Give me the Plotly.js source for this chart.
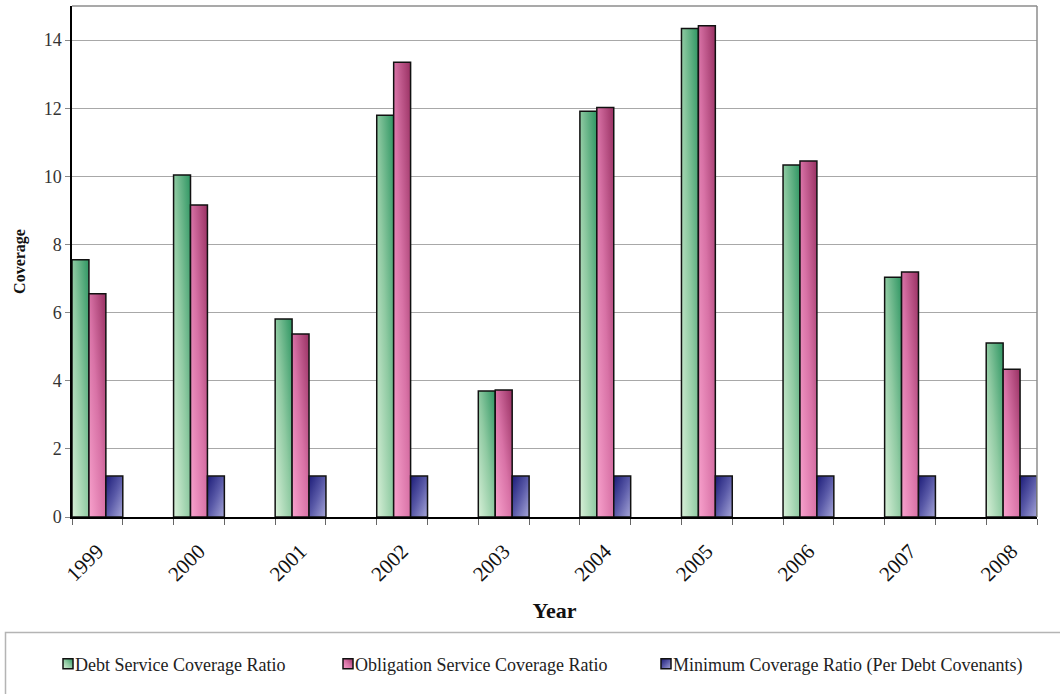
<!DOCTYPE html>
<html>
<head>
<meta charset="utf-8">
<script src="https://cdn.plot.ly/plotly-3.0.1.min.js"></script>
<style>
  html, body { margin: 0; padding: 0; background: #fff; }
  #chart { width: 1060px; height: 694px; }
</style>
</head>
<body>
<div id="chart"></div>
<script>
// Coverage ratios by fiscal year
const years = ['1999', '2000', '2001', '2002', '2003', '2004', '2005', '2006', '2007', '2008'];
const debtServiceCoverage = [7.55, 10.04, 5.81, 11.79, 3.70, 11.91, 14.34, 10.33, 7.04, 5.11];
const obligationServiceCoverage = [6.55, 9.16, 5.37, 13.35, 3.73, 12.02, 14.42, 10.45, 7.19, 4.34];
const minimumCoverage = [1.2, 1.2, 1.2, 1.2, 1.2, 1.2, 1.2, 1.2, 1.2, 1.2];
const seriesNames = [
  'Debt Service Coverage Ratio',
  'Obligation Service Coverage Ratio',
  'Minimum Coverage Ratio (Per Debt Covenants)'
];

// Each year occupies every other slot so an empty slot sits between groups
const slotPos = years.map((_, i) => 2 * i);

const W = 1060, H = 694;
const M = { l: 72, r: 23, t: 6, b: 177 };
const plotW = W - M.l - M.r, plotH = H - M.t - M.b;
const px2x = p => (p - M.l) / plotW;
const px2y = p => (H - M.b - p) / plotH;

const serif = 'Liberation Serif';

// Gradient fills (light -> dark), applied to bars after drawing
const gradients = [
  { id: 'grad-debt', x1: 0, y1: 1, x2: 1, y2: 0, stops: ['#d8f0d8', '#8fcaa2', '#2e9562'] },
  { id: 'grad-oblig', x1: 0, y1: 1, x2: 1, y2: 0, stops: ['#f8a2cd', '#d872a6', '#983062'] },
  { id: 'grad-min', x1: 0, y1: 0, x2: 1, y2: 1, stops: ['#1c1c78', '#5a5aa8', '#a6a6d8'] }
];
const baseColors = ['#7cc094', '#cc6698', '#5a5aa8'];

const valueSets = [debtServiceCoverage, obligationServiceCoverage, minimumCoverage];
const legendIds = ['legend', 'legend2', 'legend3'];
const barWidth = 1 / 3;

const traces = valueSets.map((vals, k) => ({
  type: 'bar',
  name: seriesNames[k],
  x: slotPos,
  y: vals,
  width: barWidth,
  offset: -0.5 + k * barWidth,
  marker: { color: baseColors[k], line: { color: '#111', width: 1.5 } },
  legend: legendIds[k],
  hoverinfo: 'y+name'
}));

const legendFont = { family: serif, size: 18, color: '#222' };
const legendY = px2y(664);
const legendBase = {
  orientation: 'h', xanchor: 'left', yanchor: 'middle', y: legendY,
  bgcolor: 'rgba(0,0,0,0)', borderwidth: 0, font: legendFont, itemclick: false
};

const layout = {
  width: W, height: H,
  margin: M,
  paper_bgcolor: '#fff', plot_bgcolor: '#fff',
  barmode: 'overlay',
  font: { family: serif, color: '#222' },
  xaxis: {
    range: [-0.5, 18.5],
    tickmode: 'array', tickvals: slotPos, ticktext: years,
    tickangle: -45, ticks: '', ticklabelstandoff: 12,
    tickfont: { family: serif, size: 21, color: '#111' },
    showline: true, linecolor: '#000', linewidth: 1.5,
    showgrid: false, zeroline: false,
    minor: { tickmode: 'linear', tick0: -0.5, dtick: 1, ticks: 'outside', ticklen: 6,
             tickcolor: '#666', tickwidth: 1, showgrid: false },
    title: { text: 'Year', font: { family: serif, size: 22, weight: 'bold', color: '#111' }, standoff: 17 },
    fixedrange: true
  },
  yaxis: {
    range: [0, 15], tick0: 0, dtick: 2,
    ticks: 'outside', ticklen: 5, tickcolor: '#888', tickwidth: 1,
    tickfont: { family: serif, size: 18, color: '#333' },
    showline: true, linecolor: '#000', linewidth: 1.5,
    showgrid: true, gridcolor: '#a8a8a8', gridwidth: 1,
    zeroline: false,
    title: { text: 'Coverage', font: { family: serif, size: 16, weight: 'bold', color: '#111' }, standoff: 14 },
    fixedrange: true
  },
  shapes: [
    // top and right frame of the plot area
    { type: 'line', xref: 'paper', yref: 'paper', x0: 0, x1: 1, y0: 1, y1: 1, line: { color: '#8c8c8c', width: 1.5 } },
    { type: 'line', xref: 'paper', yref: 'paper', x0: 1, x1: 1, y0: 0, y1: 1, line: { color: '#8c8c8c', width: 1.5 } },
    // legend frame
    { type: 'rect', xref: 'paper', yref: 'paper', x0: px2x(5.5), x1: px2x(1075), y0: px2y(632.5), y1: px2y(720),
      line: { color: '#b4b4b4', width: 1.5 }, fillcolor: 'rgba(0,0,0,0)', layer: 'below' }
  ],
  legend: Object.assign({}, legendBase, { x: px2x(35) }),
  legend2: Object.assign({}, legendBase, { x: px2x(315) }),
  legend3: Object.assign({}, legendBase, { x: px2x(633) }),
  showlegend: true
};

const SVGNS = 'http://www.w3.org/2000/svg';

function ensureGradients(root) {
  const svg = root.querySelector('svg.main-svg');
  if (!svg) return;
  let defs = svg.querySelector('defs');
  if (!defs) { defs = document.createElementNS(SVGNS, 'defs'); svg.prepend(defs); }
  gradients.forEach(g => {
    if (document.getElementById(g.id)) return;
    const lg = document.createElementNS(SVGNS, 'linearGradient');
    lg.setAttribute('id', g.id);
    ['x1', 'y1', 'x2', 'y2'].forEach(a => lg.setAttribute(a, g[a]));
    g.stops.forEach((c, i) => {
      const s = document.createElementNS(SVGNS, 'stop');
      s.setAttribute('offset', (i / (g.stops.length - 1) * 100) + '%');
      s.setAttribute('stop-color', c);
      lg.appendChild(s);
    });
    defs.appendChild(lg);
  });
}

// "#rrggbb" -> "rgb(r, g, b)" as the browser reports fills
const hexToRgb = h => 'rgb(' + [1, 3, 5].map(i => parseInt(h.slice(i, i + 2), 16)).join(', ') + ')';
const baseRgb = baseColors.map(hexToRgb);

function styleChart(root) {
  ensureGradients(root);
  root.querySelectorAll('.barlayer .trace').forEach((tr, k) => {
    tr.querySelectorAll('path').forEach(p => { p.style.fill = 'url(#' + gradients[k].id + ')'; });
  });
  // legend swatches: smaller squares sitting right next to their labels
  root.querySelectorAll('.legendpoints path').forEach(p => {
    let k = p.getAttribute('data-series');
    if (k === null) {
      k = baseRgb.indexOf(p.style.fill.replace(/\s+/g, ' '));
      if (k < 0) return;
      p.setAttribute('data-series', k);
    }
    k = +k;
    p.setAttribute('d', 'M5,5H-5V-5H5Z');
    p.setAttribute('transform', 'translate(33,0)');
    p.style.fill = 'url(#' + gradients[k].id + ')';
  });
}

const gd = document.getElementById('chart');
Plotly.newPlot(gd, traces, layout, { displayModeBar: false, responsive: false }).then(() => {
  styleChart(gd);
  gd.on('plotly_afterplot', () => styleChart(gd));
  [30, 150, 500].forEach(t => setTimeout(() => styleChart(gd), t));
});
</script>
</body>
</html>
